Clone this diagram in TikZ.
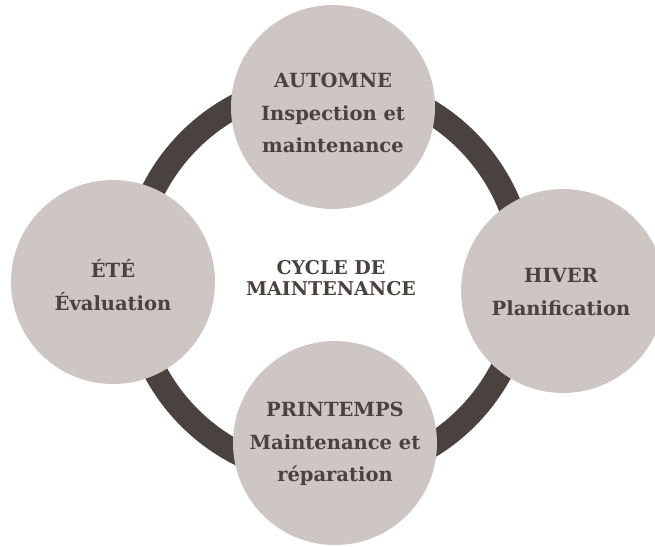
\documentclass[tikz,border=0pt]{standalone}
\usepackage{fontspec}
\setmainfont{DejaVu Serif}
\definecolor{ringbrown}{HTML}{4A423F}
\definecolor{seasonfill}{HTML}{CDC6C2}
\begin{document}
\begin{tikzpicture}[x=1pt,y=-1pt,
  season/.style={circle, fill=seasonfill, minimum size=204pt, inner sep=0pt},
  seasontext/.style={align=center, text=ringbrown, inner sep=0pt,
    font=\bfseries\fontsize{19.5}{32.5}\selectfont},
  hubtext/.style={align=center, text=ringbrown, inner sep=0pt,
    font=\bfseries\fontsize{19}{21.5}\selectfont},
  ring/.style={draw=ringbrown, line width=24pt}]
\useasboundingbox (0,0) rectangle (655,546);

% the cycle ring behind the four seasons
\coordinate (hub) at (328,279);
\draw[ring] (hub) circle[radius=196pt];

% season discs
\node[season] (autumn) at (333,107) {};
\node[season] (winter) at (563,291) {};
\node[season] (spring) at (335,443) {};
\node[season] (summer) at (113,282) {};

% season labels
\node[seasontext] (autumn-label) at (333,113) {AUTOMNE\\Inspection et\\maintenance};
\node[seasontext] (winter-label) at (561,292) {HIVER\\Planification};
\node[seasontext] (spring-label) at (335,444) {PRINTEMPS\\Maintenance et\\réparation};
\node[seasontext] (summer-label) at (113,285) {ÉTÉ\\Évaluation};

% centre title
\node[hubtext] (title) at (331,278) {CYCLE DE\\MAINTENANCE};
\end{tikzpicture}
\end{document}
